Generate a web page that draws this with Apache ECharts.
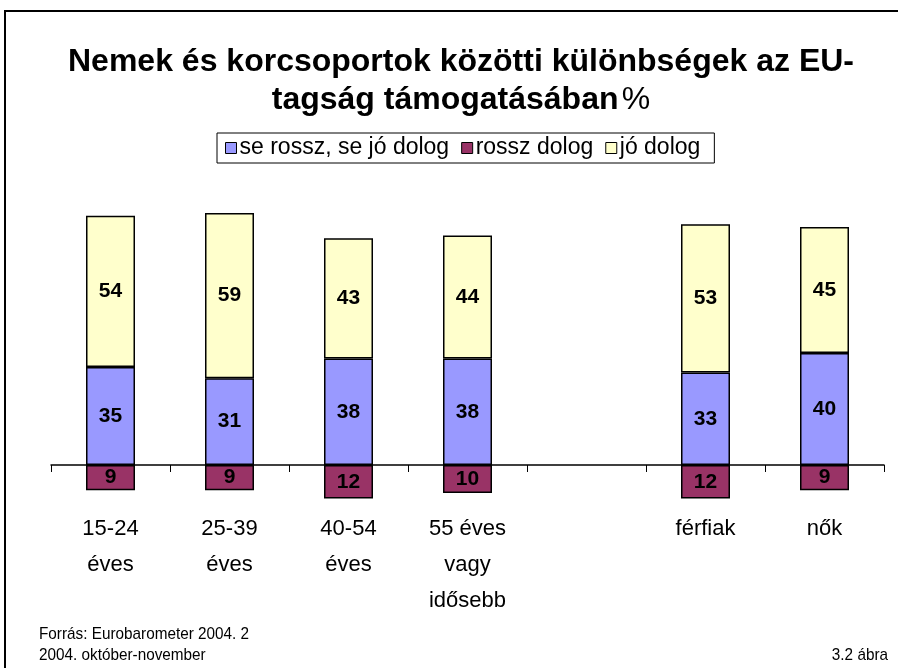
<!DOCTYPE html>
<html>
<head>
<meta charset="utf-8">
<script src="https://cdn.jsdelivr.net/npm/echarts@6/dist/echarts.min.js"></script>
<style>
  html, body { margin: 0; padding: 0; background: #fff; }
  #chart { width: 898px; height: 668px; }
</style>
</head>
<body>
<div id="chart"></div>
<script>
// categories (the empty one is the gap between age groups and sexes)
const categories = ['15-24\néves', '25-39\néves', '40-54\néves', '55 éves\nvagy\nidősebb', '', 'férfiak', 'nők'];
const neutral = [35, 31, 38, 38, null, 33, 40];   // se rossz, se jó dolog
const bad = [-9, -9, -12, -10, null, -12, -9];    // rossz dolog (drawn below the line)
const good = [54, 59, 43, 44, null, 53, 45];      // jó dolog

const font = 'Liberation Sans, Arial, sans-serif';

const chart = echarts.init(document.getElementById('chart'));

const barLabel = {
  show: true,
  position: 'inside',
  fontFamily: font,
  fontWeight: 'bold',
  fontSize: 21,
  color: '#000',
  formatter: (p) => Math.abs(p.value)
};

const makeSeries = (name, data, color) => ({
  name,
  type: 'bar',
  stack: 'total',
  data,
  barWidth: 49,
  itemStyle: { color, borderColor: '#000', borderWidth: 1.5 },
  label: barLabel,
  emphasis: { disabled: true }
});

const footer = (text, x, y, align) => ({
  type: 'text',
  x, y,
  scaleX: 0.9,
  silent: true,
  style: { text, x: 0, y: 0, align, verticalAlign: 'middle', font: '17px ' + font, fill: '#000' }
});

chart.setOption({
  animation: false,
  legend: {
    top: 133,
    left: 217,
    padding: [3, 14, 3, 8],
    borderColor: '#000',
    borderWidth: 1,
    itemGap: 12,
    itemWidth: 11,
    itemHeight: 11,
    icon: 'rect',
    itemStyle: { borderColor: '#000', borderWidth: 1 },
    textStyle: { fontFamily: font, fontSize: 23, lineHeight: 24, color: '#000', padding: [0, 0, 0, -2] },
    data: ['se rossz, se jó dolog', 'rossz dolog', 'jó dolog']
  },
  grid: { left: 51, right: 14, top: 206, bottom: 167, outerBoundsMode: 'none', containLabel: false },
  xAxis: {
    type: 'category',
    data: categories,
    axisLine: { onZero: true, lineStyle: { color: '#000', width: 1.5 } },
    axisTick: { show: true, interval: 0, length: 7, lineStyle: { color: '#000' } },
    axisLabel: {
      interval: 0,
      margin: 10,
      fontFamily: font,
      fontSize: 22,
      lineHeight: 36,
      color: '#000'
    }
  },
  yAxis: {
    type: 'value',
    min: -12.86,
    max: 92.5,
    show: false
  },
  graphic: [
    {
      type: 'rect',
      shape: { x: 5, y: 11, width: 900, height: 700 },
      style: { fill: 'none', stroke: '#000', lineWidth: 2 },
      silent: true
    },
    {
      // chart title, centred a little right of the page middle as in the original
      type: 'text',
      x: 461,
      y: 43,
      silent: true,
      style: {
        text: '{b|Nemek és korcsoportok közötti különbségek az EU-}\n{b|tagság támogatásában} {n|%}',
        x: 0,
        y: 0,
        align: 'center',
        verticalAlign: 'top',
        rich: {
          b: { fontFamily: font, fontWeight: 'bold', fontSize: 32, lineHeight: 38, fill: '#000' },
          n: { fontFamily: font, fontWeight: 'normal', fontSize: 32, lineHeight: 38, fill: '#000' }
        }
      }
    },
    footer('Forrás: Eurobarometer 2004. 2', 39, 634, 'left'),
    footer('2004. október-november', 39, 655, 'left'),
    footer('3.2 ábra', 888, 655, 'right')
  ],
  series: [
    makeSeries('se rossz, se jó dolog', neutral, '#9999FF'),
    makeSeries('rossz dolog', bad, '#993366'),
    makeSeries('jó dolog', good, '#FFFFCC')
  ]
});
</script>
</body>
</html>
